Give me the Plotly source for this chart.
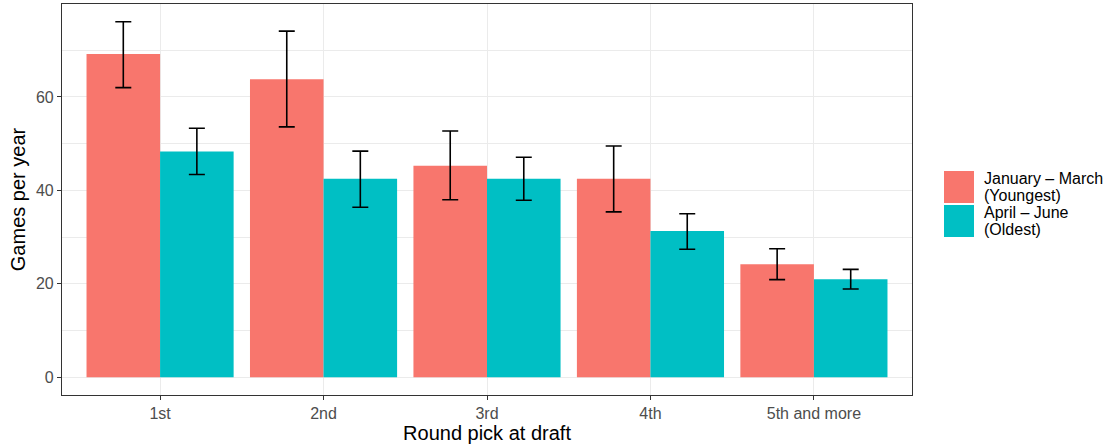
import plotly.graph_objects as go

categories = ["1st", "2nd", "3rd", "4th", "5th and more"]
series_names = ["January – March (Youngest)", "April – June (Oldest)"]
legend_lines = [["January – March", "(Youngest)"], ["April – June", "(Oldest)"]]
youngest_mean = [69.2, 63.8, 45.3, 42.5, 24.2]
youngest_upper = [76.1, 74.1, 52.7, 49.5, 27.5]
youngest_lower = [62.0, 53.6, 38.0, 35.4, 20.9]
oldest_mean = [48.3, 42.5, 42.5, 31.3, 21.0]
oldest_upper = [53.3, 48.4, 47.1, 35.0, 23.1]
oldest_lower = [43.4, 36.4, 37.9, 27.4, 18.9]
colors = ["#F8766D", "#00BFC4"]

fig = go.Figure()
for name, mean, up, lo, col in [
    (series_names[0], youngest_mean, youngest_upper, youngest_lower, colors[0]),
    (series_names[1], oldest_mean, oldest_upper, oldest_lower, colors[1]),
]:
    fig.add_trace(go.Bar(
        x=categories, y=mean, name=name, marker=dict(color=col, line=dict(width=0)),
        showlegend=False,
        error_y=dict(type="data", symmetric=False,
                     array=[u - m for u, m in zip(up, mean)],
                     arrayminus=[m - l for m, l in zip(mean, lo)],
                     color="black", thickness=1.6, width=8),
    ))

# manual ggplot-style legend
L, R, T, B = 62, 200, 4, 49
W, H = 1112 - L - R, 444 - T - B
def px(x):
    return (x - L) / W
def py(y):
    return (444 - B - y) / H
keys = [(171, 203), (205, 237)]
for (k0, k1), col, lines in zip(keys, colors, legend_lines):
    fig.add_shape(type="rect", xref="paper", yref="paper",
                  x0=px(944), x1=px(974), y0=py(k1), y1=py(k0),
                  fillcolor=col, line=dict(width=0))
    mid = (k0 + k1) / 2
    for i, line in enumerate(lines):
        fig.add_annotation(xref="paper", yref="paper", x=px(982), y=py(mid - 8.5 + 17 * i),
                           text=line, showarrow=False, xanchor="left", yanchor="middle",
                           align="left", font=dict(size=16, color="black"))

fig.update_layout(
    width=1112, height=444,
    margin=dict(l=L, r=R, t=T, b=B, autoexpand=False),
    paper_bgcolor="white", plot_bgcolor="white",
    barmode="group", bargap=0.1, bargroupgap=0,
    font=dict(family="Liberation Sans, Arial, sans-serif"),
)
fig.update_xaxes(
    automargin=False,
    range=[-0.6, 4.6], showgrid=True, gridcolor="#EBEBEB", gridwidth=1.1,
    showline=True, mirror=True, linecolor="#333333", linewidth=1.1,
    ticks="outside", ticklen=4, tickcolor="#333333", tickwidth=1.1,
    tickfont=dict(size=16, color="#4D4D4D"),
    title=dict(text="Round pick at draft", font=dict(size=20, color="black"), standoff=2),
)
fig.update_yaxes(
    automargin=False,
    range=[-3.8, 79.9], dtick=20, tick0=0, showgrid=True, gridcolor="#EBEBEB", gridwidth=1.1,
    zeroline=False,
    minor=dict(dtick=10, showgrid=True, gridcolor="#EBEBEB", gridwidth=0.6),
    showline=True, mirror=True, linecolor="#333333", linewidth=1.1,
    ticks="outside", ticklen=4, tickcolor="#333333", tickwidth=1.1,
    tickfont=dict(size=16, color="#4D4D4D"),
    title=dict(text="Games per year", font=dict(size=20, color="black"), standoff=4),
)

fig.write_html("out.html", config={"displayModeBar": False},
               post_script="document.body.style.margin='0';document.body.style.overflow='hidden';")
